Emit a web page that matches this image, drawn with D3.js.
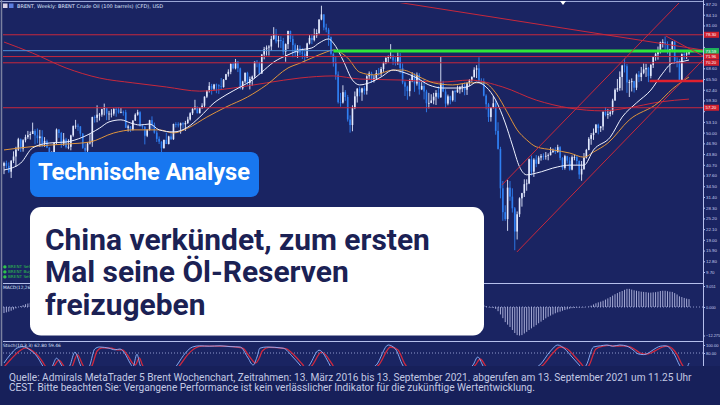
<!DOCTYPE html>
<html><head><meta charset="utf-8">
<script src="https://cdn.jsdelivr.net/npm/d3@7"></script>
<style>html,body{margin:0;padding:0;background:#17205a;}svg{display:block;}</style>
</head><body><svg id="c" width="720" height="405"></svg>
<script>
// ---------- DATA (Brent weekly, 13 Mar 2016 – 13 Sep 2021) ----------
const firstOpen = 40.4;
const close = [41.2,40.4,38.7,41.9,43.1,45.1,48.1,45.4,47.8,48.7,49.3,49.6,50.5,49.2,48.4,48.9,46.8,47.6,45.7,42.5,44.3,47.0,50.9,49.9,46.8,48.0,45.8,45.9,49.2,51.9,52.0,51.8,49.7,45.6,44.8,46.9,47.2,54.5,54.3,55.2,55.2,56.8,
57.1,55.5,55.5,55.5,56.8,56.7,55.8,56.0,55.9,51.4,51.8,50.8,53.5,55.2,55.9,52.0,51.7,49.1,50.8,53.6,52.2,50.0,48.2,47.4,45.5,47.9,46.7,48.9,48.1,52.5,52.4,52.1,52.7,52.4,52.8,53.8,55.6,56.9,57.5,55.6,57.2,57.8,60.4,62.1,63.5,62.7,63.9,63.7,63.4,63.2,65.3,66.9,
67.6,69.9,68.6,70.5,68.6,62.8,64.8,67.3,64.4,65.5,66.2,70.5,70.3,67.1,72.6,74.1,74.6,74.9,77.1,78.5,76.4,76.8,76.5,73.4,75.6,79.4,77.1,75.3,73.1,74.3,73.2,72.8,71.8,75.8,77.4,76.8,78.1,78.8,82.7,84.2,80.4,79.8,77.6,72.8,70.2,66.8,58.8,58.7,61.7,60.3,53.8,52.2,
57.1,60.5,62.7,61.6,62.8,62.1,66.3,67.1,65.1,65.7,67.2,67.0,68.4,70.3,71.6,72.0,72.2,70.9,70.6,72.2,68.7,64.5,63.3,62.0,65.2,66.6,64.2,66.7,62.5,63.5,61.9,58.5,58.6,59.3,60.4,61.5,60.2,64.3,61.9,58.4,60.5,59.4,62.0,61.7,62.5,63.3,63.4,62.4,64.4,65.2,66.1,68.2,
68.6,65.0,64.9,60.7,58.2,54.5,57.3,58.5,50.5,45.3,33.9,27.0,25.0,34.1,31.5,28.1,21.4,26.4,31.0,32.5,35.1,35.3,42.3,38.7,42.2,41.0,42.8,43.2,43.1,43.3,43.5,44.4,44.8,44.4,45.8,42.7,39.8,43.2,41.9,39.3,42.9,42.9,41.8,37.9,39.5,42.8,45.0,48.2,49.3,50.0,52.3,51.3,51.8,
56.0,55.1,55.4,55.9,59.3,62.4,62.9,66.1,69.4,69.2,64.5,64.6,64.9,63.0,66.8,66.1,67.3,68.3,68.7,66.4,69.6,71.9,72.7,73.5,76.2,76.2,75.6,73.6,74.1,76.3,70.7,70.6,65.2,72.7,72.6,72.9,73.5];
const high = [41.6,41.9,41.4,42.0,44.6,45.9,48.5,48.3,48.1,49.4,50.5,50.3,52.9,51.0,51.2,50.8,50.7,48.7,48.0,45.8,44.6,47.3,51.2,51.0,50.2,49.9,48.5,48.1,49.4,52.1,53.7,52.6,51.9,49.9,46.9,47.3,49.6,54.6,55.0,57.9,55.7,56.9,
58.4,57.1,56.3,56.8,57.1,57.3,57.4,57.1,56.4,56.6,52.3,51.9,53.6,55.6,56.6,56.2,52.4,51.9,51.0,53.7,54.7,52.9,50.6,48.9,47.5,48.0,50.0,49.1,49.8,52.6,53.0,53.0,52.9,53.0,53.4,54.6,55.9,57.1,59.5,57.5,57.3,58.5,60.5,62.3,64.6,64.1,64.1,64.2,64.0,65.8,65.5,67.0,
68.3,70.0,70.4,71.3,70.7,68.8,65.0,67.4,67.6,66.2,66.5,70.6,71.0,70.5,72.7,74.8,75.2,75.3,78.0,80.5,80.0,78.0,77.9,77.4,75.8,79.5,79.5,78.1,75.8,75.3,75.2,74.5,73.5,76.0,78.2,78.5,80.1,79.9,82.8,86.7,84.2,81.5,80.3,77.8,73.1,72.1,67.7,61.5,63.7,62.3,60.9,55.0,
57.9,61.9,62.9,63.3,63.0,63.5,66.6,67.7,67.6,66.6,68.1,68.7,69.0,70.5,71.8,72.3,75.6,72.6,71.8,73.2,73.0,70.0,64.9,63.6,65.6,67.5,67.2,67.4,67.2,64.6,65.5,62.4,61.5,61.1,61.5,62.3,63.4,71.9,65.0,62.6,61.0,60.7,62.2,62.4,63.6,63.4,64.1,64.5,64.5,65.5,66.3,68.9,
69.5,71.8,65.7,65.7,61.1,58.6,57.4,60.6,59.4,53.0,45.9,36.0,29.0,36.3,36.0,33.9,28.5,27.2,31.3,32.6,36.5,36.5,42.5,43.4,42.6,43.5,43.3,43.8,44.0,44.4,44.0,45.8,45.4,45.8,46.5,46.1,42.9,43.6,43.3,42.9,43.4,43.7,43.4,42.0,41.8,44.1,45.3,48.7,49.9,51.2,52.5,52.6,51.9,
56.2,57.4,56.8,56.6,59.8,62.8,65.5,67.7,69.6,71.4,69.8,65.3,65.7,65.0,67.1,67.8,69.0,70.0,69.9,69.0,69.8,72.0,73.1,74.9,76.3,77.0,77.8,76.4,74.2,76.5,76.6,71.8,71.3,72.9,73.7,73.5,73.9];
const low = [38.0,39.6,38.3,36.9,41.2,40.1,44.7,44.4,44.5,47.2,48.2,48.0,49.6,46.6,46.9,45.9,45.8,45.9,45.5,41.5,41.5,44.0,46.5,48.5,45.6,46.2,45.4,45.2,44.9,48.8,51.1,50.5,48.9,45.3,43.6,44.2,46.6,45.9,52.9,53.0,53.5,54.6,
55.0,53.6,53.6,54.4,54.9,54.6,55.5,55.6,54.9,51.4,50.3,50.2,50.6,53.4,54.9,51.7,51.1,46.6,48.7,50.6,51.1,49.7,47.3,46.7,44.4,45.4,46.7,46.6,47.9,47.9,51.5,51.5,49.7,51.2,50.5,52.5,53.5,55.1,56.5,55.6,55.6,56.9,57.2,60.0,61.6,61.0,62.2,61.4,61.2,62.3,63.0,65.2,
66.2,66.9,68.3,68.3,67.5,62.5,62.4,64.3,63.6,62.5,63.6,65.7,68.9,66.8,67.0,71.2,72.3,72.3,73.7,76.8,75.8,74.6,74.5,72.5,70.5,74.2,76.2,71.8,71.9,71.6,72.4,71.3,70.3,71.6,75.5,75.6,76.4,77.4,78.5,82.5,79.6,79.0,75.1,72.3,69.1,65.3,58.4,57.5,58.4,59.2,53.2,50.0,
50.4,56.8,58.7,60.5,59.2,61.0,61.0,65.3,64.4,64.5,65.5,66.3,66.3,67.6,69.8,70.2,71.4,69.6,69.4,69.6,67.1,64.0,60.6,59.5,60.5,64.6,61.8,63.6,61.0,62.3,59.6,55.9,57.0,58.5,58.2,58.0,59.8,60.1,61.7,57.1,57.9,58.2,59.0,58.9,61.5,61.3,61.7,60.8,60.9,63.4,64.7,65.9,
65.8,64.3,63.9,60.5,56.7,53.1,53.2,57.0,49.4,45.1,31.0,24.5,24.5,21.6,30.3,26.9,16.0,19.1,25.6,28.6,31.4,33.2,35.1,37.6,37.2,40.0,40.9,41.9,42.1,42.2,42.0,43.4,44.1,43.8,44.2,42.0,39.2,39.3,41.1,39.0,39.1,42.0,40.7,36.6,36.1,39.2,42.5,44.9,46.5,47.9,49.9,49.5,50.2,
50.7,54.7,54.0,54.7,55.2,59.2,61.8,62.1,62.2,67.4,61.5,60.3,61.9,61.6,62.3,64.6,64.9,66.9,66.1,64.6,65.7,68.7,70.8,71.1,72.9,74.6,73.6,72.7,67.4,73.3,69.9,68.9,64.6,64.9,71.2,71.3,72.5];

// moving averages: [week, price]
const maWhite = [[0,39.2],[7,41.2],[12,45.6],[19,47.0],[26,47.3],[33,48.7],[40,51.3],[44,53.1],[49,53.7],[53,52.8],[57,52.2],[61,52.5],[65,50.8],[71,50.2],[77,51.6],[82,54.5],[88,58.6],[93,60.9],[99,63.2],[104,65.2],[108,67.5],[113,70.4],[119,72.5],[124,73.9],[129,74.5],[132,75.9],[136,77.1],[138,75.9],[142,71.0],[146,65.2],[149,63.8],[153,64.4],[158,66.1],[163,68.1],[167,67.5],[173,65.8],[178,63.8],[184,62.9],[191,62.9],[195,63.5],[198,64.6],[202,63.2],[206,59.4],[210,52.8],[213,46.4],[216,40.1],[219,37.8],[223,38.3],[232,40.1],[237,40.6],[243,40.6],[247,45.0],[254,48.7],[259,54.5],[265,58.6],[271,62.3],[276,67.2],[280,70.1],[283,70.4],[287,71.0]];
const maOrange = [[0,45.0],[7,45.6],[19,46.4],[26,46.7],[36,47.3],[46,49.9],[54,50.8],[65,50.8],[71,49.9],[77,51.3],[85,54.5],[93,57.4],[102,60.3],[110,63.8],[119,68.7],[124,70.1],[129,71.6],[135,73.3],[138,73.9],[144,71.6],[149,67.5],[155,66.7],[163,68.1],[167,68.1],[174,66.1],[180,64.4],[188,63.8],[195,64.4],[201,64.4],[206,61.5],[211,55.7],[215,50.8],[219,47.9],[223,45.9],[230,45.0],[237,44.1],[243,42.9],[247,44.4],[253,47.0],[262,53.7],[274,58.6],[280,62.6],[287,66.1]];
const maRed = [[0,76.2],[12,73.0],[26,68.7],[40,65.8],[54,64.4],[68,63.2],[82,62.0],[96,62.9],[110,64.4],[124,65.8],[138,66.4],[149,65.5],[167,65.2],[183,64.6],[195,65.2],[209,63.2],[223,59.4],[237,57.1],[251,56.3],[261,57.1],[275,58.9],[287,59.7]];

// horizontal levels and trend lines drawn on the chart
const redLevels = [78.3, 72.0, 70.2, 57.2];
const greenLevel = {price: 73.6, from: 138, to: 295};
const blueLevel  = {price: 73.7, from: -3, to: 138};
const thickRed   = {price: 64.9, from: 270.5, to: 295};
const trendLines = [
  [[161.7,88.07],[292.8,73.9]],
  [[208.6,34.85],[283.2,87.78]],
  [[214.9,15.49],[292.8,71.0]],
  [[277.3,77.95],[292.8,72.2]]
];
const boxLevels = [[78.3,"#d0202e","78.30"],[73.6,"#1fb25a","73.59"],[72.0,"#d0202e","71.96"],[70.2,"#d0202e","70.20"],[57.2,"#d0202e","57.20"]];

// MACD(12,26,9) main values per week
const macd = [-2.6,-2.3,-2.0,-1.6,-1.1,-0.6,0.0,0.4,0.8,1.2,1.5,1.8,
2.0,2.1,2.1,2.0,1.8,1.6,1.3,0.9,0.6,0.5,0.7,0.8,0.7,0.6,
0.4,0.2,0.3,0.6,0.9,1.1,1.1,0.8,0.4,0.2,0.1,
0.7,1.2,1.7,2.1,2.5,2.8,2.9,2.9,2.8,2.8,2.7,2.6,2.5,2.4,
1.9,1.5,1.1,1.0,1.0,1.0,0.7,0.4,0.0,-0.2,-0.1,-0.1,-0.3,-0.6,-0.9,-1.3,-1.4,-1.5,-1.4,-1.3,
-0.9,-0.6,-0.3,-0.1,0.1,0.2,0.4,0.7,1.0,1.4,1.6,1.8,2.0,2.4,2.9,3.4,3.7,4.0,4.2,4.3,4.3,4.4,4.6,
4.8,5.1,5.2,5.4,5.3,4.6,4.1,3.9,3.5,3.2,3.0,3.3,3.5,3.3,3.6,4.0,4.3,4.6,5.0,5.4,5.5,5.5,5.4,5.0,4.8,5.0,4.9,4.6,4.1,3.8,3.4,3.0,2.5,2.6,2.8,2.8,3.0,3.2,3.7,4.3,
4.2,3.9,3.4,2.5,1.5,0.3,-1.4,-2.7,-3.3,-3.8,-4.8,-5.7,-5.4,-4.6,-3.8,-3.0,-2.1,
-1.4,-0.5,0.4,0.9,1.3,1.8,2.1,2.5,3.0,3.4,3.8,4.0,3.9,3.7,3.6,
3.2,2.4,1.6,0.8,0.5,0.3,-0.1,0.0,-0.4,-0.6,-1.0,-1.6,-2.0,-2.2,-2.2,-2.0,-1.9,
-1.4,-1.2,-1.5,-1.5,-1.5,-1.2,-0.9,-0.6,-0.3,-0.1,-0.1,0.2,0.5,0.8,1.2,1.7,1.6,1.4,
0.9,0.4,-0.1,-0.3,-0.4,-0.8,-1.8,-3.2,-4.8,-6.5,-7.6,-8.6,-9.9,-11.2,-12.1,-12.3,-12.1,-11.4,-10.7,-9.9,-9.2,-8.5,-7.8,-7.0,-6.3,-5.6,-4.9,-4.2,-3.7,-3.2,-2.7,-2.3,-2.0,-1.6,-1.3,-1.0,-0.7,-0.5,-0.4,-0.3,-0.3,-0.2,-0.2,
0.0,0.2,0.6,1.1,1.6,2.0,2.3,2.7,3.2,3.7,4.3,4.9,5.5,6.0,6.5,6.9,7.4,7.8,7.8,7.5,7.2,7.0,6.8,6.6,6.5,6.4,6.2,6.2,6.3,6.4,6.6,6.9,7.0,7.0,6.8,6.6,6.5,6.0,5.4,4.6,4.3,3.9,3.6,3.4];

// Stochastic %K and %D: [week, value]
const stochK = [[0,55],[2.5,75],[5.4,92],[8,96],[11,87],[14,70],[16,50],[18,30],[19.5,35],[20.5,50],[22,67],[24,50],[26,30],[27.7,50],[29.7,82],[32,50],[33.5,30],[35,35],[36,50],[38,90],[40,95],[44,92],[46.5,88],[48.6,90],[50.7,78],[52.8,55],[54,45],[55.7,77],[57,50],[59,30],[62,20],[66,15],[70,30],[72.5,50],[76,80],[79,95],[82,98],[86,97],[90.5,98],[94.7,96],[99,95],[102,70],[104.4,50],[106,70],[107.2,92],[110,95],[117,92],[121,70],[124,50],[126,35],[128,50],[132,87],[136.5,50],[139,20],[142,10],[146,20],[150,30],[153,40],[156,50],[161,100],[164,90],[167,50],[170,30],[175,25],[180,20],[185,30],[190,35],[194,40],[196.5,50],[198.5,70],[200.5,50],[203,20],[208,5],[214,10],[218,25],[222,40],[224.5,50],[229,85],[232,100],[235,90],[238,70],[241,50],[242.5,40],[244,50],[247,95],[250,98],[252.6,100],[255,97],[258,100],[261,97],[263.5,88],[265.6,78],[268,76],[270,80],[272,88],[275,97],[277,98],[279,92],[281,75],[283,50],[285,35],[287,55]];
const stochD = [[0,45],[3,65],[6.5,85],[9,93],[12,85],[15,68],[17,50],[19,33],[21,48],[23,62],[25,48],[27,33],[28.7,48],[30.7,76],[33,50],[35,32],[37,50],[39,85],[41,93],[45,92],[47.5,88],[49.6,88],[51.7,75],[53.8,55],[55,50],[56.7,68],[58,50],[60,32],[63,22],[67,17],[71,30],[73.5,48],[77,76],[80,92],[83,97],[87,97],[91.5,97],[95.7,96],[100,92],[103,70],[105.4,55],[107,68],[108.2,85],[111,94],[118,91],[122,72],[125,52],[127,38],[129,48],[133,82],[137.5,52],[140,25],[143,12],[147,18],[151,28],[154,38],[157,50],[162,95],[165,88],[168,52],[171,32],[176,25],[181,22],[186,28],[191,35],[195,40],[197.5,50],[199.5,65],[201.5,50],[204,25],[209,8],[215,10],[219,23],[223,38],[225.5,48],[230,80],[233,95],[236,90],[239,72],[242,52],[243.5,42],[245,48],[248,90],[251,97],[253.6,99],[256,97],[259,98],[262,96],[264.5,88],[266.6,80],[269,77],[271,80],[273,86],[276,95],[278,97],[280,91],[282,76],[284,52],[286,38],[287,45]];

const priceTicks = [87.2,84.1,81.0,77.9,74.8,71.7,68.6,65.5,62.4,59.3,56.2,53.1,50.0,46.9,43.8,40.7,37.6,34.5,31.4,28.3,25.2,22.1,19.0,15.9,12.8,9.7];
const macdTicks = [9.051, 0, -12.275];
const stochTicks = [100, 80];

// ---------- DRAWING ----------
const svg = d3.select("#c");
const BG = "#1a2462";
svg.append("rect").attr("width",720).attr("height",405).attr("fill","#17205a");
svg.append("rect").attr("width",720).attr("height",366).attr("fill",BG);

const defs = svg.append("defs");
function clip(id,x,y,w,h){defs.append("clipPath").attr("id",id).append("rect").attr("x",x).attr("y",y).attr("width",w).attr("height",h);}
clip("cm",3,3,700,280); clip("cd",3,284,700,57); clip("cs",3,342,700,24);

const x = d3.scaleLinear().domain([0,287]).range([4,689]);
const y = d3.scaleLinear().domain([9.7,87.2]).range([272,4]);
const yM = d3.scaleLinear().domain([-12.275,9.051]).range([335.5,286]);
const yS = d3.scaleLinear().domain([0,100]).range([385,345]);

const gm = svg.append("g").attr("clip-path","url(#cm)");

// candles
const UP="#e3eaff", DN="#2f7ff2";
const candles = close.map((c,i)=>({i,o:i?close[i-1]:firstOpen,h:high[i],l:low[i],c}));
gm.selectAll("line.w").data(candles).join("line").attr("class","w")
  .attr("x1",d=>x(d.i)).attr("x2",d=>x(d.i)).attr("y1",d=>y(d.h)).attr("y2",d=>y(d.l))
  .attr("stroke",d=>d.c>=d.o?UP:DN).attr("stroke-width",0.9);
gm.selectAll("rect.b").data(candles).join("rect").attr("class","b")
  .attr("x",d=>x(d.i)-0.8).attr("width",1.6)
  .attr("y",d=>y(Math.max(d.o,d.c))).attr("height",d=>Math.max(0.8,Math.abs(y(d.o)-y(d.c))))
  .attr("fill",d=>d.c>=d.o?UP:DN);

// moving averages
const ln = d3.line().x(d=>x(d[0])).y(d=>y(d[1])).curve(d3.curveMonotoneX);
gm.append("path").attr("d",ln(maRed)).attr("fill","none").attr("stroke","#c8283c").attr("stroke-width",1);
gm.append("path").attr("d",ln(maOrange)).attr("fill","none").attr("stroke","#e0953c").attr("stroke-width",1);
gm.append("path").attr("d",ln(maWhite)).attr("fill","none").attr("stroke","#eef1ff").attr("stroke-width",1);

// horizontal levels
redLevels.forEach(p=>gm.append("line").attr("x1",3).attr("x2",703).attr("y1",y(p)).attr("y2",y(p)).attr("stroke","#c8283c").attr("stroke-width",1));
gm.append("line").attr("x1",x(blueLevel.from)).attr("x2",x(blueLevel.to)).attr("y1",y(blueLevel.price)).attr("y2",y(blueLevel.price)).attr("stroke","#4f8fd8").attr("stroke-width",1);
gm.append("line").attr("x1",x(greenLevel.from)).attr("x2",x(greenLevel.to)).attr("y1",y(greenLevel.price)).attr("y2",y(greenLevel.price)).attr("stroke","#2ee63a").attr("stroke-width",3);
gm.append("line").attr("x1",x(thickRed.from)).attr("x2",x(thickRed.to)).attr("y1",y(thickRed.price)).attr("y2",y(thickRed.price)).attr("stroke","#e0202e").attr("stroke-width",2.5);

// trend lines
trendLines.forEach(t=>gm.append("line").attr("x1",x(t[0][0])).attr("y1",y(t[0][1])).attr("x2",x(t[1][0])).attr("y2",y(t[1][1])).attr("stroke","#c8283c").attr("stroke-width",1));

// MACD
const gd = svg.append("g").attr("clip-path","url(#cd)");
gd.append("line").attr("x1",3).attr("x2",703).attr("y1",yM(0)).attr("y2",yM(0)).attr("stroke","#8e98cc").attr("stroke-dasharray","1,2");
gd.selectAll("line.m").data(macd).join("line").attr("class","m")
  .attr("x1",(d,i)=>x(i)).attr("x2",(d,i)=>x(i)).attr("y1",yM(0)).attr("y2",d=>yM(d))
  .attr("stroke","#c9cdf2").attr("stroke-width",0.8);

// Stochastic
const gs = svg.append("g").attr("clip-path","url(#cs)");
gs.append("line").attr("x1",3).attr("x2",703).attr("y1",yS(80)).attr("y2",yS(80)).attr("stroke","#8e98cc").attr("stroke-dasharray","1,2");
const ls = d3.line().x(d=>x(d[0])).y(d=>yS(d[1])).curve(d3.curveMonotoneX);
gs.append("path").attr("d",ls(stochD)).attr("fill","none").attr("stroke","#d0283e").attr("stroke-width",1.3);
gs.append("path").attr("d",ls(stochK)).attr("fill","none").attr("stroke","#8fb6ff").attr("stroke-width",0.9);

// frame
svg.append("line").attr("x1",0).attr("x2",703).attr("y1",1.5).attr("y2",1.5).attr("stroke","#9aa6d6").attr("stroke-width",1);
svg.append("line").attr("x1",1.5).attr("x2",1.5).attr("y1",0).attr("y2",366).attr("stroke","#7a80a0").attr("stroke-width",1.5);
[283.5,341.5].forEach(v=>svg.append("line").attr("x1",3).attr("x2",703).attr("y1",v).attr("y2",v).attr("stroke","#b5bfec").attr("stroke-width",1));

// axes
const AXF = "Liberation Sans, Arial, sans-serif";
function styleAxis(fs){return g=>{g.select(".domain").attr("stroke","#b5bfec");g.selectAll(".tick line").attr("stroke","#b5bfec");
  g.selectAll(".tick text").attr("fill","#c9d0f0").attr("font-size",fs).attr("font-family",AXF).attr("x",3);};}
// hide tick labels that sit under a level box (the box covers them in the reference)
const priceFmt = d=>boxLevels.some(b=>Math.abs(y(b[0])-y(d))<5.2)?"":d3.format(".2f")(d);
svg.append("g").attr("transform","translate(703,0)").call(d3.axisRight(y).tickValues(priceTicks).tickFormat(priceFmt).tickSize(2).tickSizeOuter(0)).call(styleAxis(4.4));
svg.append("g").attr("transform","translate(703,0)").call(d3.axisRight(yM).tickValues(macdTicks).tickFormat(d3.format(".3f")).tickSize(2).tickSizeOuter(0)).call(styleAxis(3.9)).select(".domain").remove();
svg.append("g").attr("transform","translate(703,0)").call(d3.axisRight(yS).tickValues(stochTicks).tickFormat(d3.format(".2f")).tickSize(2).tickSizeOuter(0)).call(styleAxis(4.1)).select(".domain").remove();
svg.append("line").attr("x1",703.5).attr("x2",703.5).attr("y1",0).attr("y2",366).attr("stroke","#b5bfec");

// level boxes
boxLevels.forEach(b=>{
  svg.append("rect").attr("x",704).attr("y",y(b[0])-3).attr("width",15).attr("height",6).attr("fill",b[1]);
  svg.append("text").attr("x",705.5).attr("y",y(b[0])+1.6).attr("fill","#fff").attr("font-size",4.3).attr("font-family",AXF).text(b[2]);
});

// small labels
svg.append("rect").attr("x",3).attr("y",3.5).attr("width",4.5).attr("height",4.5).attr("fill","#d9d2e8");
svg.append("rect").attr("x",9).attr("y",3.5).attr("width",4.5).attr("height",4.5).attr("fill","#5a7de0");
svg.append("text").attr("x",17).attr("y",7.6).attr("fill","#dfe4ff").attr("font-size",5).attr("font-family","DejaVu Sans, sans-serif").text("BRENT, Weekly:  BRENT Crude Oil (100 barrels) (CFD), USD");
svg.append("path").attr("d","M560,1 L566,1 L563,5 Z").attr("fill","#ffffff");
["● BRENT Sell 1.00","● BRENT Buy 1.00","● BRENT Sell 1.00"].forEach((t,i)=>svg.append("text").attr("x",3).attr("y",268+i*4.8).attr("fill","#2fc24a").attr("font-size",4.2).attr("font-family","DejaVu Sans, sans-serif").text(t));
svg.append("text").attr("x",3).attr("y",289).attr("fill","#dfe4ff").attr("font-size",4.4).attr("font-family","DejaVu Sans, sans-serif").text("MACD(12,26,9) 3.357");
svg.append("text").attr("x",3).attr("y",347).attr("fill","#dfe4ff").attr("font-size",4.4).attr("font-family","DejaVu Sans, sans-serif").text("Stoch(10,3,3) 62.80 59.46");

// overlays
function fit(sel,target){const len=sel.node().getComputedTextLength();sel.attr("font-size",parseFloat(sel.attr("font-size"))*target/len);}
svg.append("rect").attr("x",30).attr("y",152).attr("width",229).attr("height",45).attr("rx",8).attr("fill","#1877f0");
const bt = svg.append("text").attr("x",38).attr("y",179.5).attr("fill","#fff").attr("font-size",21).attr("font-weight",700).attr("font-family","Roboto, sans-serif").text("Technische Analyse");
fit(bt,212);
svg.append("rect").attr("x",30).attr("y",207).attr("width",454).attr("height",128.5).attr("rx",11).attr("fill","#ffffff");
const tl = ["China verkündet, zum ersten","Mal seine Öl-Reserven","freizugeben"];
const t0 = svg.append("text").attr("x",45).attr("y",249.5).attr("fill","#1b2154").attr("font-size",28).attr("font-weight",700).attr("font-family","Roboto, sans-serif").text(tl[0]);
fit(t0,385);
const tfs = t0.attr("font-size");
tl.slice(1).forEach((t,i)=>svg.append("text").attr("x",45).attr("y",282+i*32.5).attr("fill","#1b2154").attr("font-size",tfs).attr("font-weight",700).attr("font-family","Roboto, sans-serif").text(t));

// caption
const cap = ["Quelle: Admirals MetaTrader 5 Brent Wochenchart, Zeitrahmen: 13. März 2016 bis 13. September 2021. abgerufen am 13. September 2021 um 11.25 Uhr",
"CEST. Bitte beachten Sie: Vergangene Performance ist kein verlässlicher Indikator für die zukünftige Wertentwicklung."];
const c0 = svg.append("text").attr("x",9).attr("y",380.5).attr("fill","#c3c9e4").attr("font-size",11.5).attr("font-family","Roboto, sans-serif").text(cap[0]);
fit(c0,683);
svg.append("text").attr("x",9).attr("y",391).attr("fill","#c3c9e4").attr("font-size",c0.attr("font-size")).attr("font-family","Roboto, sans-serif").text(cap[1]);
</script></body></html>
